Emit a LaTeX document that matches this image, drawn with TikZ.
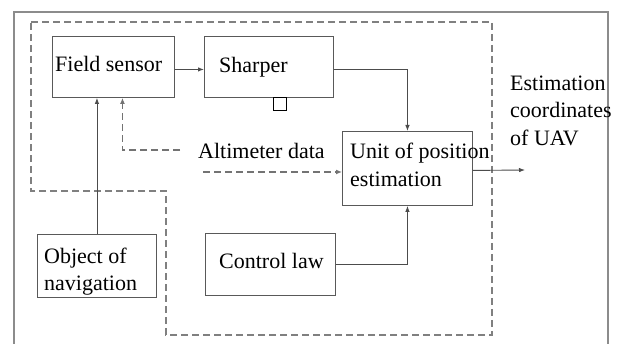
\documentclass[tikz,border=0pt]{standalone}
\usepackage{fontspec}
\setmainfont{Liberation Serif}
\usetikzlibrary{arrows.meta}
\begin{document}
\begin{tikzpicture}[x=1pt,y=-1pt,
  box/.style={draw=black!65, line width=0.9pt, inner sep=0pt, anchor=north west},
  txt/.style={anchor=base west, inner sep=0pt, font=\fontsize{22}{27}\selectfont},
  arr/.style={draw=black!70, line width=0.9pt, -{Latex[length=6pt,width=4.5pt]}},
  darr/.style={draw=black!55, line width=1.4pt, dash pattern=on 7pt off 4pt, -{Latex[length=6pt,width=5pt]}},
  bound/.style={draw=black!50, line width=1.5pt, dash pattern=on 7pt off 4pt},
  frame/.style={draw=black!45, line width=1.4pt}]
\useasboundingbox (0,0) rectangle (621,344);
\fill[white] (0,0) rectangle (621,344);
% outer frame
\draw[frame] (14,344) -- (14,12) -- (608,12) -- (608,344);
% dashed boundary
\draw[bound] (31,22) -- (492,22) -- (492,335) -- (166,335) -- (166,191) -- (31,191) -- cycle;
% boxes
\node[box, minimum width=122pt, minimum height=61pt] (fs) at (52,36) {};
\node[box, minimum width=129pt, minimum height=61pt] (sh) at (204,36) {};
\node[box, minimum width=130pt, minimum height=74pt] (unit) at (342,131) {};
\node[box, minimum width=130pt, minimum height=62pt] (cl) at (205,233) {};
\node[box, minimum width=119pt, minimum height=63pt] (obj) at (37,234) {};
\node[box, draw=black, line width=1.1pt, minimum width=13pt, minimum height=13pt] (sq) at (273,97) {};
% texts
\node[txt] (tfs) at (55,72) {Field sensor};
\node[txt] (tsh) at (219,73) {Sharper};
\node[txt] (tu1) at (350,159) {Unit of position};
\node[txt] (tu2) at (350,187) {estimation};
\node[txt] (tcl) at (219,269) {Control law};
\node[txt] (to1) at (44,264) {Object of};
\node[txt] (to2) at (44,291) {navigation};
\node[txt] (talt) at (198,159) {Altimeter data};
\node[txt] (te1) at (510,91) {Estimation};
\node[txt] (te2) at (510,118) {coordinates};
\node[txt] (te3) at (510,146) {of UAV};
% connectors
\coordinate (out) at (525,170);
\coordinate (altA) at (180,150);
\coordinate (altB) at (203,172);
\draw[arr] ([yshift=-2.5pt]fs.east) -- ([yshift=-2.5pt]sh.west);
\draw[arr] ([yshift=-2.5pt]sh.east) -| (unit.north);
\draw[arr] (cl.east) -| (unit.south);
\draw[arr] ([yshift=-2pt]unit.east) -- (out);
\draw[arr] (obj.north) -- (obj.north |- fs.south);
\draw[darr] (altA) -| ([xshift=9pt]fs.south);
\draw[darr] (altB) -- (altB -| unit.west);
\end{tikzpicture}
\end{document}
